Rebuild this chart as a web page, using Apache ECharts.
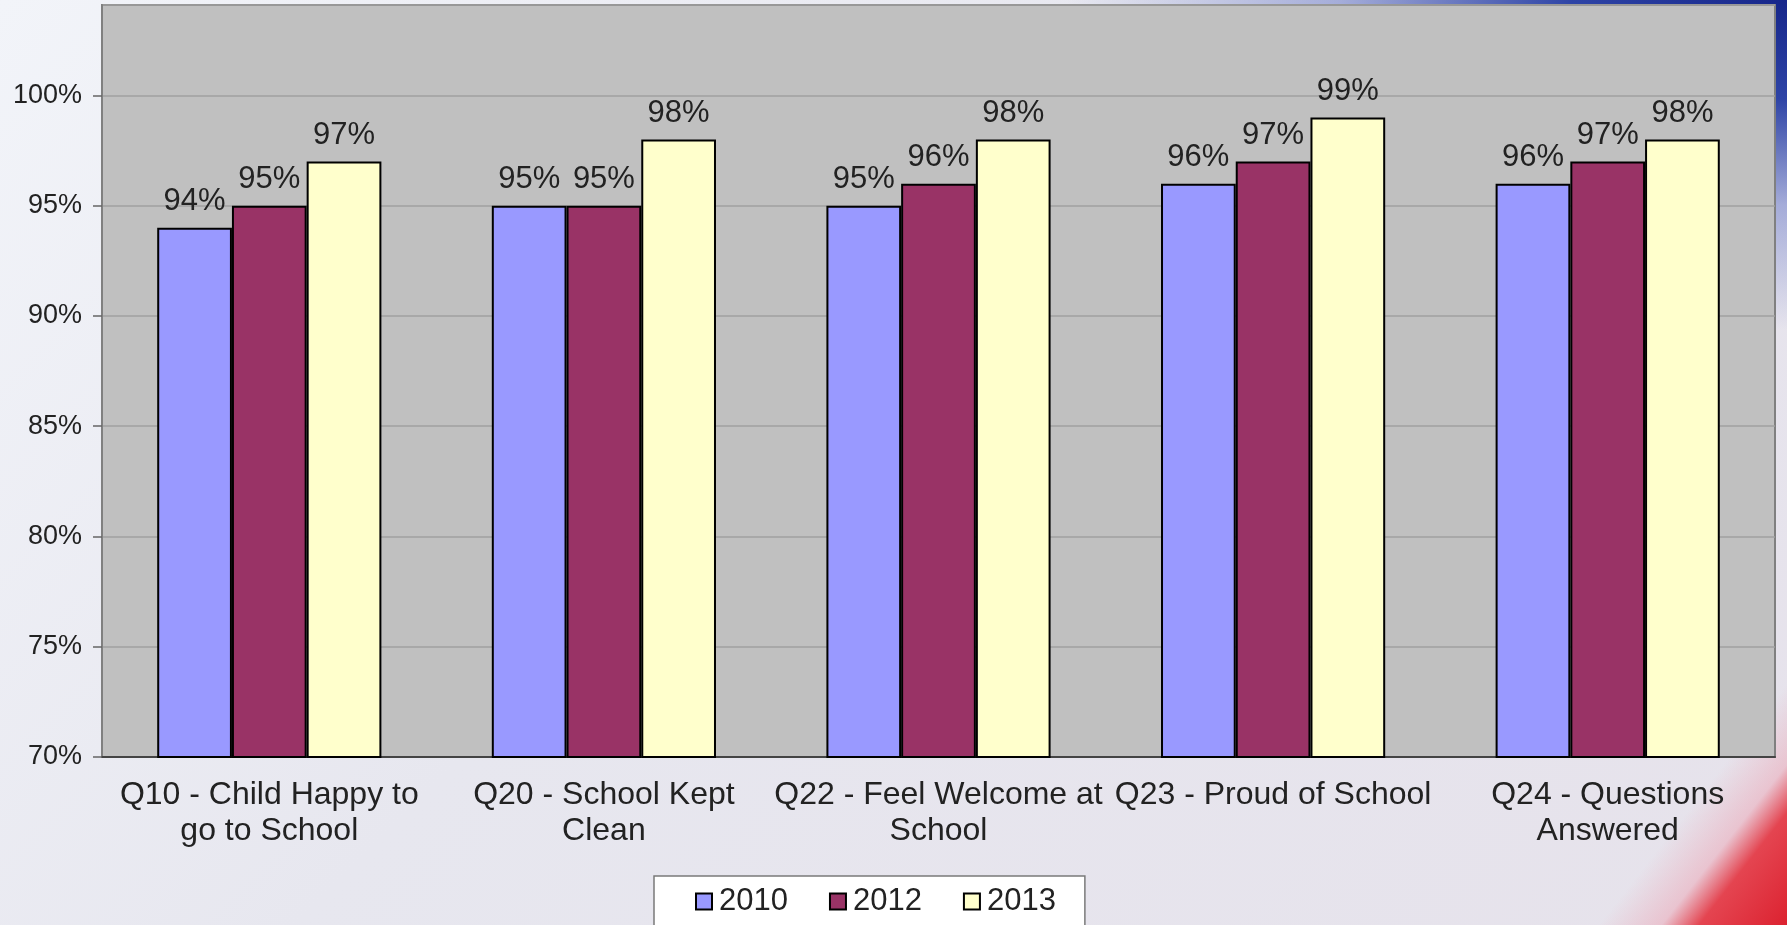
<!DOCTYPE html>
<html>
<head>
<meta charset="utf-8">
<script src="https://cdn.jsdelivr.net/npm/echarts@6/dist/echarts.min.js"></script>
<style>
  html, body { margin: 0; padding: 0; }
  body {
    width: 1787px; height: 925px; overflow: hidden;
    background:
      linear-gradient(128deg, rgba(226,40,52,0) 92.5%, rgba(236,170,185,0.55) 95%, rgba(228,60,72,0.95) 96.5%, #dc2230 100%),
      radial-gradient(ellipse 720px 330px at 100% 0%, #16268a 0%, #2e44a6 30%, rgba(110,125,200,0.55) 62%, rgba(230,230,240,0) 100%),
      linear-gradient(135deg, #f2f4f9 0%, #e7e7ef 45%, #e6e2eb 100%);
  }
  #chart_main { width: 1787px; height: 925px; }
</style>
</head>
<body>
<div id="chart_main"></div>
<script>
const categories = [
  "Q10 - Child Happy to\ngo to School",
  "Q20 - School Kept\nClean",
  "Q22 - Feel Welcome at\nSchool",
  "Q23 - Proud of School",
  "Q24 - Questions\nAnswered"
];
const years = ["2010", "2012", "2013"];
const values2010 = [94, 95, 95, 96, 96];
const values2012 = [95, 95, 96, 97, 97];
const values2013 = [97, 98, 98, 99, 98];
const yTicks = [70, 75, 80, 85, 90, 95, 100];

const fontName = "'Liberation Sans', Arial, sans-serif";
const colors = ["#9999ff", "#993366", "#ffffcc"];

let myChart = echarts.init(document.getElementById("chart_main"));

function barSeries(name, data, color) {
  return {
    name: name,
    type: "bar",
    data: data,
    barGap: "0%",
    barCategoryGap: "33%",
    itemStyle: { color: color, borderColor: "#000", borderWidth: 2 },
    label: {
      show: true,
      position: "top",
      distance: 11,
      formatter: "{c}%",
      color: "#222",
      fontSize: 31,
      fontFamily: fontName
    }
  };
}

let option = {
  animation: false,
  backgroundColor: "transparent",
  grid: {
    left: 102,
    right: 12,
    top: 5,
    bottom: 168,
    show: true,
    backgroundColor: "#c0c0c0",
    borderColor: "#808080",
    borderWidth: 2
  },
  legend: {
    data: years,
    left: 654,
    top: 876,
    padding: [10, 29, 10, 41],
    backgroundColor: "#fff",
    borderColor: "#7a7a7a",
    borderWidth: 1.5,
    icon: "rect",
    itemWidth: 16,
    itemHeight: 16,
    itemGap: 41,
    textStyle: {
      color: "#222",
      fontSize: 31,
      fontFamily: fontName,
      padding: [0, 0, 0, 2]
    }
  },
  xAxis: {
    type: "category",
    data: categories,
    axisLine: { lineStyle: { color: "#444", width: 2 } },
    axisTick: { length: 10, lineStyle: { color: "#666", width: 1.5 } },
    axisLabel: {
      color: "#222",
      fontSize: 32,
      lineHeight: 36,
      margin: 20,
      fontFamily: fontName,
      interval: 0
    }
  },
  yAxis: {
    type: "value",
    min: 70,
    max: 104.1,
    interval: 5,
    axisLine: { show: true, lineStyle: { color: "#808080", width: 2 } },
    axisTick: { show: true, length: 9, lineStyle: { color: "#666", width: 1.5 } },
    splitLine: { lineStyle: { color: "#a0a0a0", width: 1.5 } },
    axisLabel: {
      color: "#222",
      fontSize: 27,
      margin: 20,
      fontFamily: fontName,
      showMaxLabel: false,
      formatter: function (v) {
        return yTicks.indexOf(v) !== -1 ? v + "%" : "";
      }
    }
  },
  series: [
    barSeries(years[0], values2010, colors[0]),
    barSeries(years[1], values2012, colors[1]),
    barSeries(years[2], values2013, colors[2])
  ]
};

myChart.setOption(option);
</script>
</body>
</html>
